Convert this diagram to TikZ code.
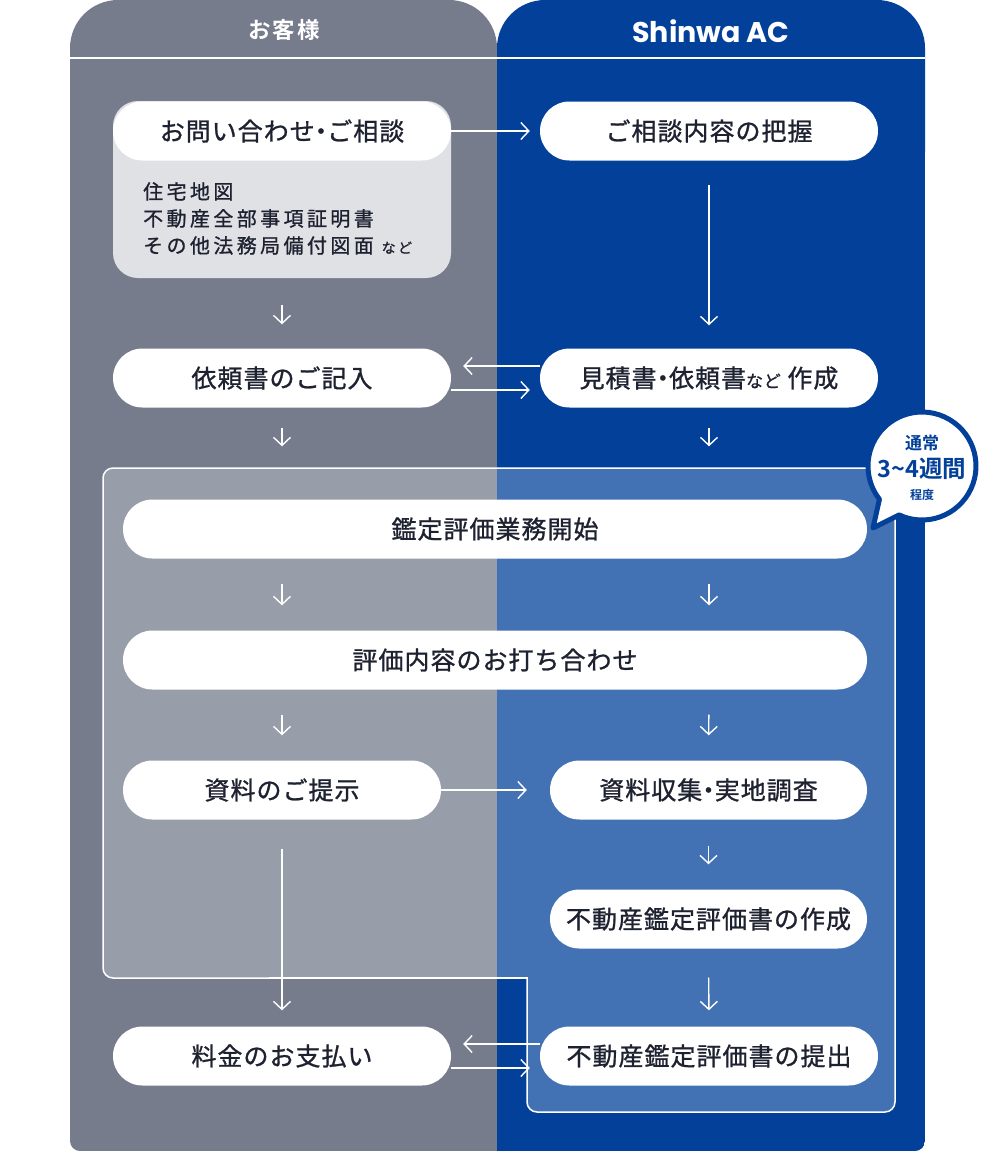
\documentclass[tikz,border=0pt]{standalone}
\usepackage{fontspec}
\setmainfont{Noto Sans CJK JP}[FakeBold=1]
\newfontfamily\poppins{Poppins}
\newfontfamily\jpbold{Noto Sans CJK JP Bold}
\usetikzlibrary{arrows.meta}
\usetikzlibrary{calc}

\definecolor{custgray}{HTML}{777C8D}
\definecolor{custblue}{HTML}{02409A}
\definecolor{lightgray}{HTML}{989DAA}
\definecolor{lightblue}{HTML}{4372B4}
\definecolor{boxgray}{HTML}{DFE1E5}
\definecolor{ink}{HTML}{1E2230}

% narrow middle dot
\newcommand{\nakag}{\hspace{-0.25em}・\hspace{-0.25em}}

\tikzset{
    pill/.style={fill=white, rounded corners=29.5pt, minimum height=59pt, inner sep=0pt,
        text=ink, font=\fontsize{25}{30}\selectfont\addfontfeatures{LetterSpace=4}},
    arr/.style={draw=white, line width=1.4pt,
        -{Straight Barb[length=8pt,width=17pt,line width=1.4pt]}},
    head/.style={text=white, inner sep=0pt},
}

\begin{document}
\begin{tikzpicture}[x=1pt, y=-1pt]
        \useasboundingbox (0,0) rectangle (995,1152);

        % Panels: customer (left) and Shinwa AC (right)
        \begin{scope}
            \clip[rounded corners=10pt] (70,100) rectangle (925,1151);
            \fill[custgray] (70,100) rectangle (497,1151);
            \fill[custblue] (497,100) rectangle (925,1151);
        \end{scope}
        \fill[custgray, rounded corners=48pt] (70,0) rectangle (497,200);
        \fill[custblue, rounded corners=48pt] (497,0) rectangle (925,200);
        \draw[white, line width=2pt] (70,58) -- (925,58);

        % Headers
        \node[head, font=\jpbold\fontsize{22.5}{26}\selectfont\addfontfeatures{LetterSpace=10}] (hcust) at (284,30) {お客様};
        \node[head, font=\poppins\fontsize{28.5}{32}\selectfont\bfseries] (hshinwa) at (711,31) {Shinwa AC};

        % Appraisal period region
        \begin{scope}
            \clip[rounded corners=10pt] (103,468) rectangle (895,978);
            \fill[lightgray] (103,468) rectangle (497,978);
            \fill[lightblue] (497,468) rectangle (895,978);
        \end{scope}
        \fill[lightblue, rounded corners=10pt] (527,900) rectangle (895,1112);
        \draw[white, line width=1.5pt, line cap=rect, rounded corners=10pt] (296,978) -- (103,978) -- (103,468) -- (895,468) -- (895,1112) -- (527,1112) -- (527,978);
        \draw[white, line width=1.5pt, line cap=rect] (527,978) -- (270,978);

        % Inquiry with documents
        \node[fill=boxgray, rounded corners=25pt, minimum width=338pt, minimum height=177pt, inner sep=0pt] (inqbox) at (282,189.5) {};
        \node[pill, minimum width=338pt] (inq) at (282,131) {お問い合わせ\nakag ご相談};
        \node[anchor=north west, align=left, inner sep=0pt, text=ink,
            font=\fontsize{20}{27}\selectfont\addfontfeatures{LetterSpace=17}] (inqlist) at (143,182)
            {住宅地図\\不動産全部事項証明書\\その他法務局備付図面 {\fontsize{14}{14}\selectfont など}};

        % Row nodes
        \node[pill, minimum width=338pt] (grasp) at (709,131) {ご相談内容の把握};
        \node[pill, minimum width=338pt] (req) at (282,378) {依頼書のご記入};
        \node[pill, minimum width=338pt] (quote) at (709,378) {見積書\nakag 依頼書{\fontsize{17}{17}\selectfont など} 作成};
        \node[pill, minimum width=744pt] (start) at (495,529) {鑑定評価業務開始};
        \node[pill, minimum width=744pt] (meet) at (495,660) {評価内容のお打ち合わせ};
        \node[pill, minimum width=318pt] (docs) at (282,790) {資料のご提示};
        \node[pill, minimum width=317pt] (survey) at (708.5,790) {資料収集\nakag 実地調査};
        \node[pill, minimum width=317pt] (report) at (708.5,919) {不動産鑑定評価書の作成};
        \node[pill, minimum width=338pt] (pay) at (282,1056) {料金のお支払い};
        \node[pill, minimum width=338pt] (submit) at (709,1056) {不動産鑑定評価書の提出};

        % Horizontal connectors
        \draw[arr, shorten >=10pt] (inq.east) -- (grasp.west);
        \draw[arr, shorten >=12pt] ([yshift=12pt]quote.west) -- ([yshift=12pt]req.east);
        \draw[arr, shorten >=10pt] ([yshift=-12pt]req.east) -- ([yshift=-12pt]quote.west);
        \draw[arr, shorten >=23pt] (docs.east) -- (survey.west);
        \draw[arr, shorten >=12pt] ([yshift=12pt]submit.west) -- ([yshift=12pt]pay.east);
        \draw[arr, shorten >=10pt] ([yshift=-12pt]pay.east) -- ([yshift=-12pt]submit.west);

        % Vertical connectors
        \draw[arr, shorten <=27pt, shorten >=24pt] (inqbox.south) -- (req.north);
        \draw[arr, shorten <=24pt, shorten >=23pt] (grasp.south) -- (quote.north);
        \draw[arr, shorten <=20pt, shorten >=53pt] (req.south) -- (req.south |- start.north);
        \draw[arr, shorten <=20pt, shorten >=53pt] (quote.south) -- (quote.south |- start.north);
        \draw[arr, shorten <=25pt, shorten >=25pt] (req.south |- start.south) -- (req.south |- meet.north);
        \draw[arr, shorten <=25pt, shorten >=25pt] (quote.south |- start.south) -- (quote.south |- meet.north);
        \draw[arr, shorten <=25pt, shorten >=25pt] (req.south |- meet.south) -- (docs.north);
        \draw[arr, shorten <=25pt, shorten >=25pt] (quote.south |- meet.south) -- (survey.north);
        \draw[arr, shorten <=26pt, shorten >=25pt] (survey.south) -- (report.north);
        \draw[arr, shorten <=29pt, shorten >=16pt] (docs.south) -- (pay.north);
        \draw[arr, shorten <=29pt, shorten >=16pt] (report.south) -- (submit.north);

        % Speech bubble
        \begin{scope}[shift={(922,466)}, x=1pt, y=1pt]
            \filldraw[fill=white, draw=custblue, line width=5pt, line join=round]
                (245:54) arc[start angle=245, end angle=578, radius=54] -- (-49,-62) -- cycle;
        \end{scope}
        \node[text=custblue, inner sep=0pt, font=\jpbold\fontsize{17}{17}\selectfont] (btop) at (922,443) {通常};
        \node[text=custblue, inner sep=0pt, font=\jpbold\fontsize{23.5}{23.5}\selectfont] (bmid) at (922,469) {3\textasciitilde 4週間};
        \node[text=custblue, inner sep=0pt, font=\jpbold\fontsize{12}{12}\selectfont] (bbot) at (922,495) {程度};

    \end{tikzpicture}
\end{document}
